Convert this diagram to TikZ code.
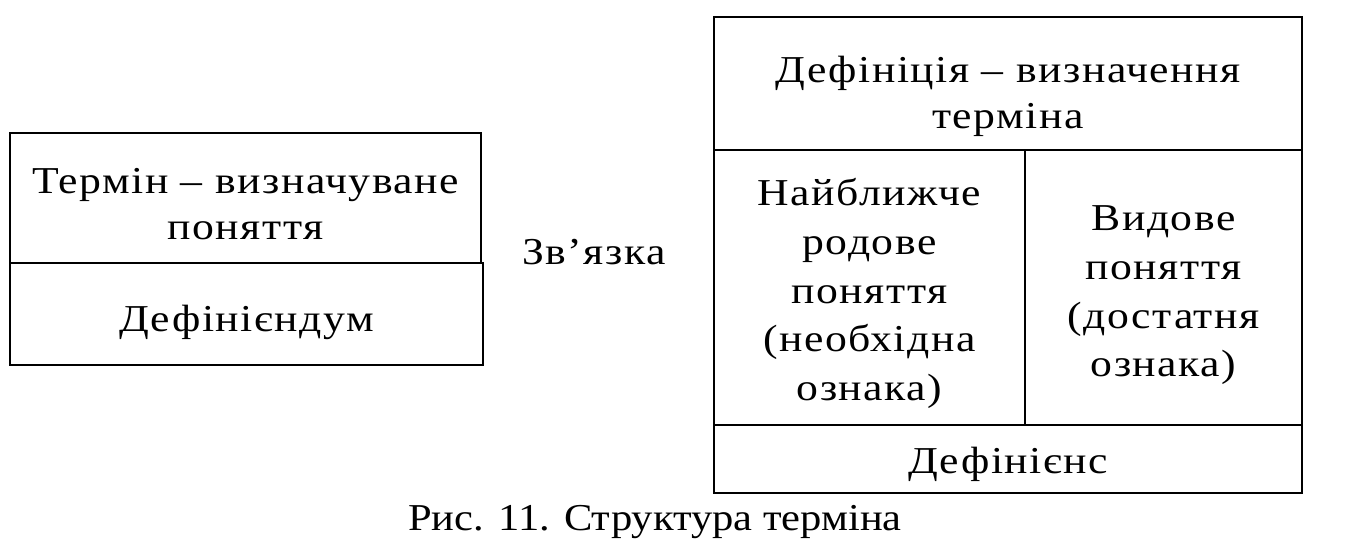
\documentclass[tikz,border=0pt]{standalone}
\usepackage{fontspec}
\usetikzlibrary{calc}
\setmainfont{Liberation Serif}
\newfontfamily\boxfont[FakeStretch=1.15,LetterSpace=4]{Liberation Serif}
\newfontfamily\capfont[FakeStretch=1.12]{Liberation Serif}
\begin{document}
\begin{tikzpicture}[x=0.75pt,y=-0.75pt,
  box/.style={draw,line width=1.8pt,inner sep=0pt,outer sep=0pt},
  txt/.style={inner sep=0pt,align=center,font=\boxfont\fontsize{28.5}{36.5}\selectfont}]
\useasboundingbox (0,0) rectangle (1351,546);
% boxes
\node[box,minimum width=353.25pt,minimum height=97.5pt] (lt) at (245.5,198) {};
\node[box,minimum width=354.75pt,minimum height=76.5pt] (lb) at (246.5,314) {};
\node[box,minimum width=441pt,minimum height=99.75pt] (rt) at (1008,83.5) {};
\node[box,minimum width=233.25pt,minimum height=206.25pt] (rml) at (869.5,287.5) {};
\node[box,minimum width=207.75pt,minimum height=206.25pt] (rmr) at (1163.5,287.5) {};
\node[box,minimum width=441pt,minimum height=51pt] (rb) at (1008,459) {};
% texts
\node[txt,font=\boxfont\fontsize{28.5}{34.5}\selectfont] (ltT) at ($(lt.center)+(0,6)$) {Термін – визначуване\\поняття};
\node[txt] (lbT) at ($(lb.center)+(0,8)$) {Дефінієндум};
\node[txt,font=\boxfont\fontsize{28.5}{34}\selectfont] (rtT) at ($(rt.center)+(0,13)$) {Дефініція – визначення\\терміна};
\node[txt] (rmlT) at ($(rml.center)+(0,6)$) {Найближче\\родове\\поняття\\(необхідна\\ознака)};
\node[txt] (rmrT) at ($(rmr.center)+(0,8)$) {Видове\\поняття\\(достатня\\ознака)};
\node[txt] (rbT) at ($(rb.center)+(0,5)$) {Дефінієнс};
\node[txt] (zv) at (594,252) {Зв’язка};
\node[inner sep=0pt,font=\capfont\fontsize{28.5}{35.5}\selectfont] (cap) at (655,522) {Рис. 11. Структура терміна};
\end{tikzpicture}
\end{document}
